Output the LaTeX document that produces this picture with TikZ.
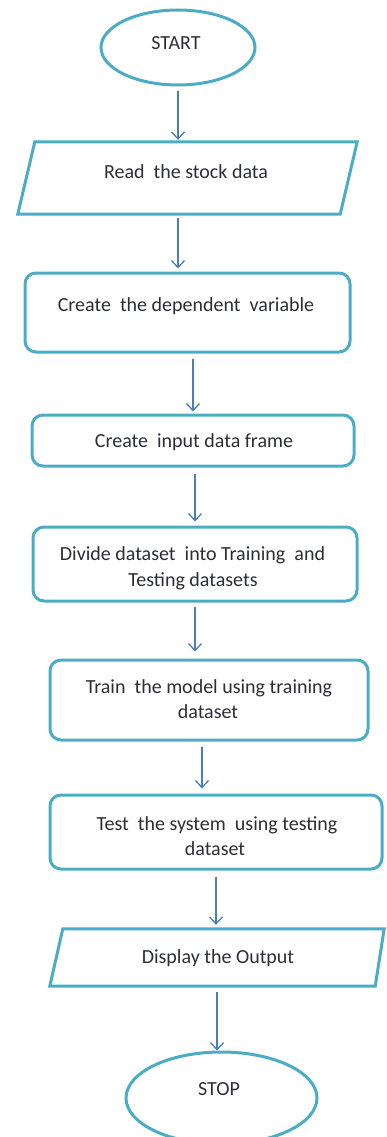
\documentclass[tikz,border=0pt]{standalone}
\usepackage{fontspec}
\setmainfont{Carlito}
\usetikzlibrary{arrows.meta,shapes.geometric,calc}
\definecolor{tealframe}{RGB}{75,172,198}
\definecolor{arrblue}{RGB}{74,126,187}
\definecolor{txt}{RGB}{45,45,55}
\tikzset{
 frame/.style={draw=tealframe, line width=3pt},
 term/.style={frame, ellipse, inner sep=0pt},
 procbox/.style={frame, rectangle, rounded corners=11pt, inner sep=0pt},
 iobox/.style={rectangle, inner sep=0pt},
 lbl/.style={anchor=base, inner sep=0pt, text=txt, font=\fontsize{20}{24}\selectfont},
 arr/.style={draw=arrblue, line width=1.3pt, -{Straight Barb[length=7pt,width=13pt,line width=1.3pt]}},
}
\begin{document}
\begin{tikzpicture}[x=1pt,y=-1pt]
\useasboundingbox (0,0) rectangle (386,1137);
% START
\node[term, minimum width=154pt, minimum height=75pt] (start) at (178,47.5) {};
\node[lbl] (tstart) at (176,50) {START};
% Read
\node[iobox, minimum width=339pt, minimum height=72pt] (read) at (187.5,178) {};
\draw[frame] ([xshift=17pt]read.north west) -- (read.north east) -- ([xshift=-17pt]read.south east) -- (read.south west) -- cycle;
\node[lbl] (tread) at (186,178) {Read\ \ the stock data};
% Box 2
\node[procbox, minimum width=325pt, minimum height=79pt] (box2) at (187.5,312.5) {};
\node[lbl] (tbox2) at (186,311.5) {Create\ \ the dependent\ \ variable};
% Box 3
\node[procbox, minimum width=322pt, minimum height=51pt] (box3) at (193,440.5) {};
\node[lbl] (tbox3) at (194,447) {Create\ \ input data frame};
% Box 4
\node[procbox, minimum width=324pt, minimum height=74pt] (box4) at (195,564) {};
\node[lbl] (tbox4a) at (192.5,560) {Divide dataset\ \ into Training\ \ and};
\node[lbl] (tbox4b) at (193,586) {Testing datasets};
% Box 5
\node[procbox, minimum width=318pt, minimum height=80pt] (box5) at (209,700) {};
\node[lbl] (tbox5a) at (209,693) {Train\ \ the model using training};
\node[lbl] (tbox5b) at (208,718) {dataset};
% Box 6
\node[procbox, minimum width=332pt, minimum height=74pt] (box6) at (216,832) {};
\node[lbl] (tbox6a) at (217,830) {Test\ \ the system\ \ using testing};
\node[lbl] (tbox6b) at (215,855) {dataset};
% Display
\node[iobox, minimum width=334pt, minimum height=57pt] (disp) at (217,957.5) {};
\draw[frame] ([xshift=13pt]disp.north west) -- (disp.north east) -- ([xshift=-9pt]disp.south east) -- (disp.south west) -- cycle;
\node[lbl] (tdisp) at (218,963) {Display the Output};
% STOP
\node[term, minimum width=191pt, minimum height=92pt] (stop) at (221.5,1098) {};
\node[lbl] (tstop) at (219,1095) {STOP};
% Arrows
\draw[arr, shorten <=5pt, shorten >=2pt] (start.south) -- (start.south |- read.north);
\draw[arr, shorten <=4pt, shorten >=3pt] (read.south -| start.south) -- (box2.north -| start.south);
\draw[arr, shorten <=5pt, shorten >=2pt] (box2.south -| box3.north) -- (box3.north);
\draw[arr, shorten <=6pt, shorten >=4pt] (box3.south -| box4.north) -- (box4.north);
\draw[arr, shorten <=4pt, shorten >=7pt] (box4.south) -- (box4.south |- box5.north);
\draw[arr, shorten <=5pt, shorten >=5pt] ([xshift=-7pt]box5.south) -- ([xshift=-7pt]box5.south |- box6.north);
\draw[arr, shorten <=6pt, shorten >=4pt] (box6.south) -- (box6.south |- disp.north);
\draw[arr, shorten <=6pt, shorten >=0pt] (disp.south) -- (disp.south |- stop.north);
\end{tikzpicture}
\end{document}
